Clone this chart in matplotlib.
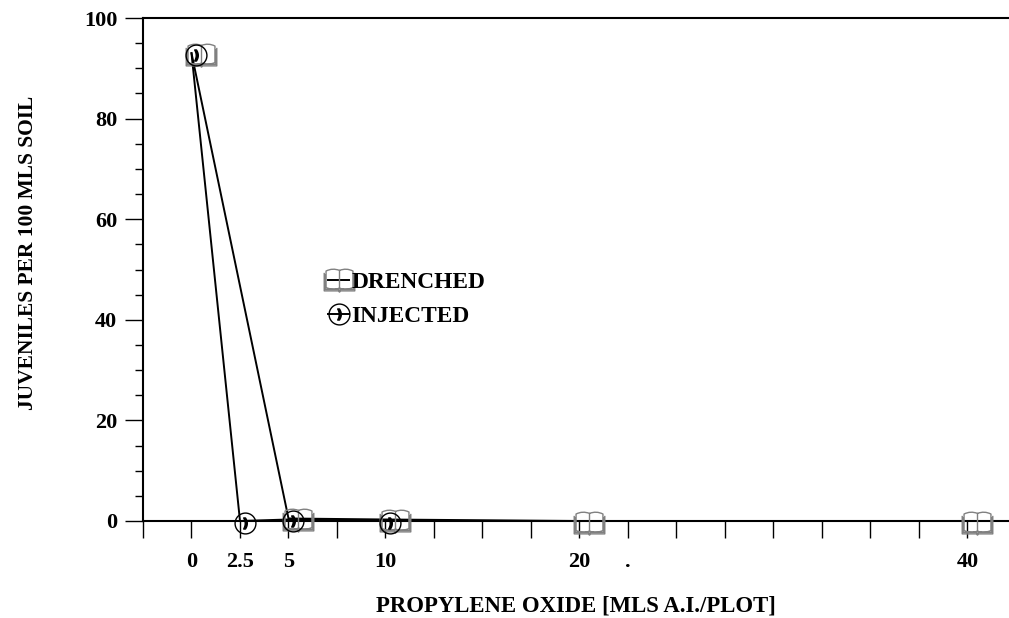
import numpy as np
import matplotlib.pyplot as plt
from matplotlib.path import Path
from matplotlib.transforms import ScaledTranslation

# data
drenched_x = [0, 5, 10, 20, 40]
drenched_y = [93, 0.5, 0.3, 0, 0]
injected_x = [0, 2.5, 5, 10]
injected_y = [93, 0, 0.3, 0]

x_ticks = np.arange(-2.5, 42.5, 2.5)
x_tick_labels = {0: "0", 2.5: "2.5", 5: "5", 10: "10", 20: "20", 22.5: ".", 40: "40"}
y_ticks = [0, 20, 40, 60, 80, 100]

plt.rcParams['font.family'] = ['Liberation Serif', 'DejaVu Serif']
plt.rcParams['font.weight'] = 'bold'


def book_marker():
    M, L, C = Path.MOVETO, Path.LINETO, Path.CURVE3
    verts, codes = [], []

    def add(pts, cds):
        verts.extend(pts)
        codes.extend(cds)

    # cover
    add([(-1, 0.5), (-1, -0.68), (-0.08, -0.68), (0, -0.76), (0.08, -0.68), (1, -0.68), (1, 0.5)],
        [M, L, L, L, L, L, L])
    # left page
    add([(0, -0.5), (-0.45, -0.66), (-0.88, -0.46), (-0.88, 0.62), (-0.45, 0.84), (0, 0.66), (0, -0.5)],
        [M, C, C, L, C, C, L])
    # right page
    add([(0, -0.5), (0.45, -0.66), (0.88, -0.46), (0.88, 0.62), (0.45, 0.84), (0, 0.66)],
        [M, C, C, L, C, C])
    # page edges at the bottom
    add([(-0.94, 0.4), (-0.94, -0.58), (-0.08, -0.58), (0, -0.64), (0.08, -0.58), (0.94, -0.58), (0.94, 0.4)],
        [M, L, L, L, L, L, L])
    return Path(verts, codes)


BOOK = book_marker()

fig = plt.figure(figsize=(10.09, 6.18), dpi=100)
ax = fig.add_axes([143 / 1009, 97 / 618, 866 / 1009, 503 / 618])

ax.plot(drenched_x, drenched_y, color='black', lw=1.4, zorder=3)
ax.plot(injected_x, injected_y, color='black', lw=1.4, zorder=3)

# the markers sit a little right of / below the data points in the original
book_tr = ax.transData + ScaledTranslation(0.10, -0.02, fig.dpi_scale_trans)
circ_tr = ax.transData + ScaledTranslation(0.05, -0.02, fig.dpi_scale_trans)
ax.plot(drenched_x, drenched_y, ls='none', marker=BOOK, ms=22, mfc='none', mec='#808080',
        mew=1.0, transform=book_tr, zorder=4, clip_on=False)
ax.plot(injected_x, injected_y, ls='none', marker='o', ms=15, mfc='none', mec='black',
        mew=1.0, transform=circ_tr, zorder=5, clip_on=False)
ax.plot(injected_x, injected_y, ls='none', marker=r'$\mathbf{)}$', ms=8, color='black',
        transform=circ_tr, zorder=5, clip_on=False)

ax.set_xlim(-2.5, 42.14)
ax.set_ylim(0, 100)

ax.set_xticks(x_ticks)
ax.set_xticklabels([x_tick_labels.get(float(t), "") for t in x_ticks])
ax.set_yticks(y_ticks)
ax.set_yticks(np.arange(0, 101, 5), minor=True)
ax.tick_params(axis='x', direction='out', length=12, width=1, pad=10, labelsize=16)
ax.tick_params(axis='y', which='major', direction='out', length=13, width=1, pad=5.5, labelsize=16)
ax.tick_params(axis='y', which='minor', direction='out', length=6, width=1)

for s in ['left', 'top', 'bottom']:
    ax.spines[s].set_linewidth(1.5)
ax.spines['right'].set_visible(False)

# legend
h_dr = (plt.Line2D([], [], color='black', lw=1.4),
        plt.Line2D([], [], ls='none', marker=BOOK, ms=22, mfc='none', mec='#808080', mew=1.0))
h_in = (plt.Line2D([], [], color='black', lw=1.4),
        plt.Line2D([], [], ls='none', marker='o', ms=15, mfc='none', mec='black', mew=1.0),
        plt.Line2D([], [], ls='none', marker=r'$\mathbf{)}$', ms=8, color='black'))
ax.legend([h_dr, h_in], ['DRENCHED', 'INJECTED'], loc='upper left',
          bbox_to_anchor=(328 / 1009, (618 - 272) / 618), bbox_transform=fig.transFigure,
          frameon=False, handlelength=0.9, handletextpad=0.1, labelspacing=0.55,
          borderpad=0, borderaxespad=0, prop={'size': 16.8, 'weight': 'bold'})

fig.text(576 / 1009, 1 - 606 / 618, 'PROPYLENE OXIDE [MLS A.I./PLOT]', ha='center', va='center',
         fontsize=16.4, fontweight='bold')
fig.text(28 / 1009, 1 - 253 / 618, 'JUVENILES PER 100 MLS SOIL', ha='center', va='center',
         rotation=90, fontsize=15.5, fontweight='bold')

fig.savefig('out.png', dpi=100)
